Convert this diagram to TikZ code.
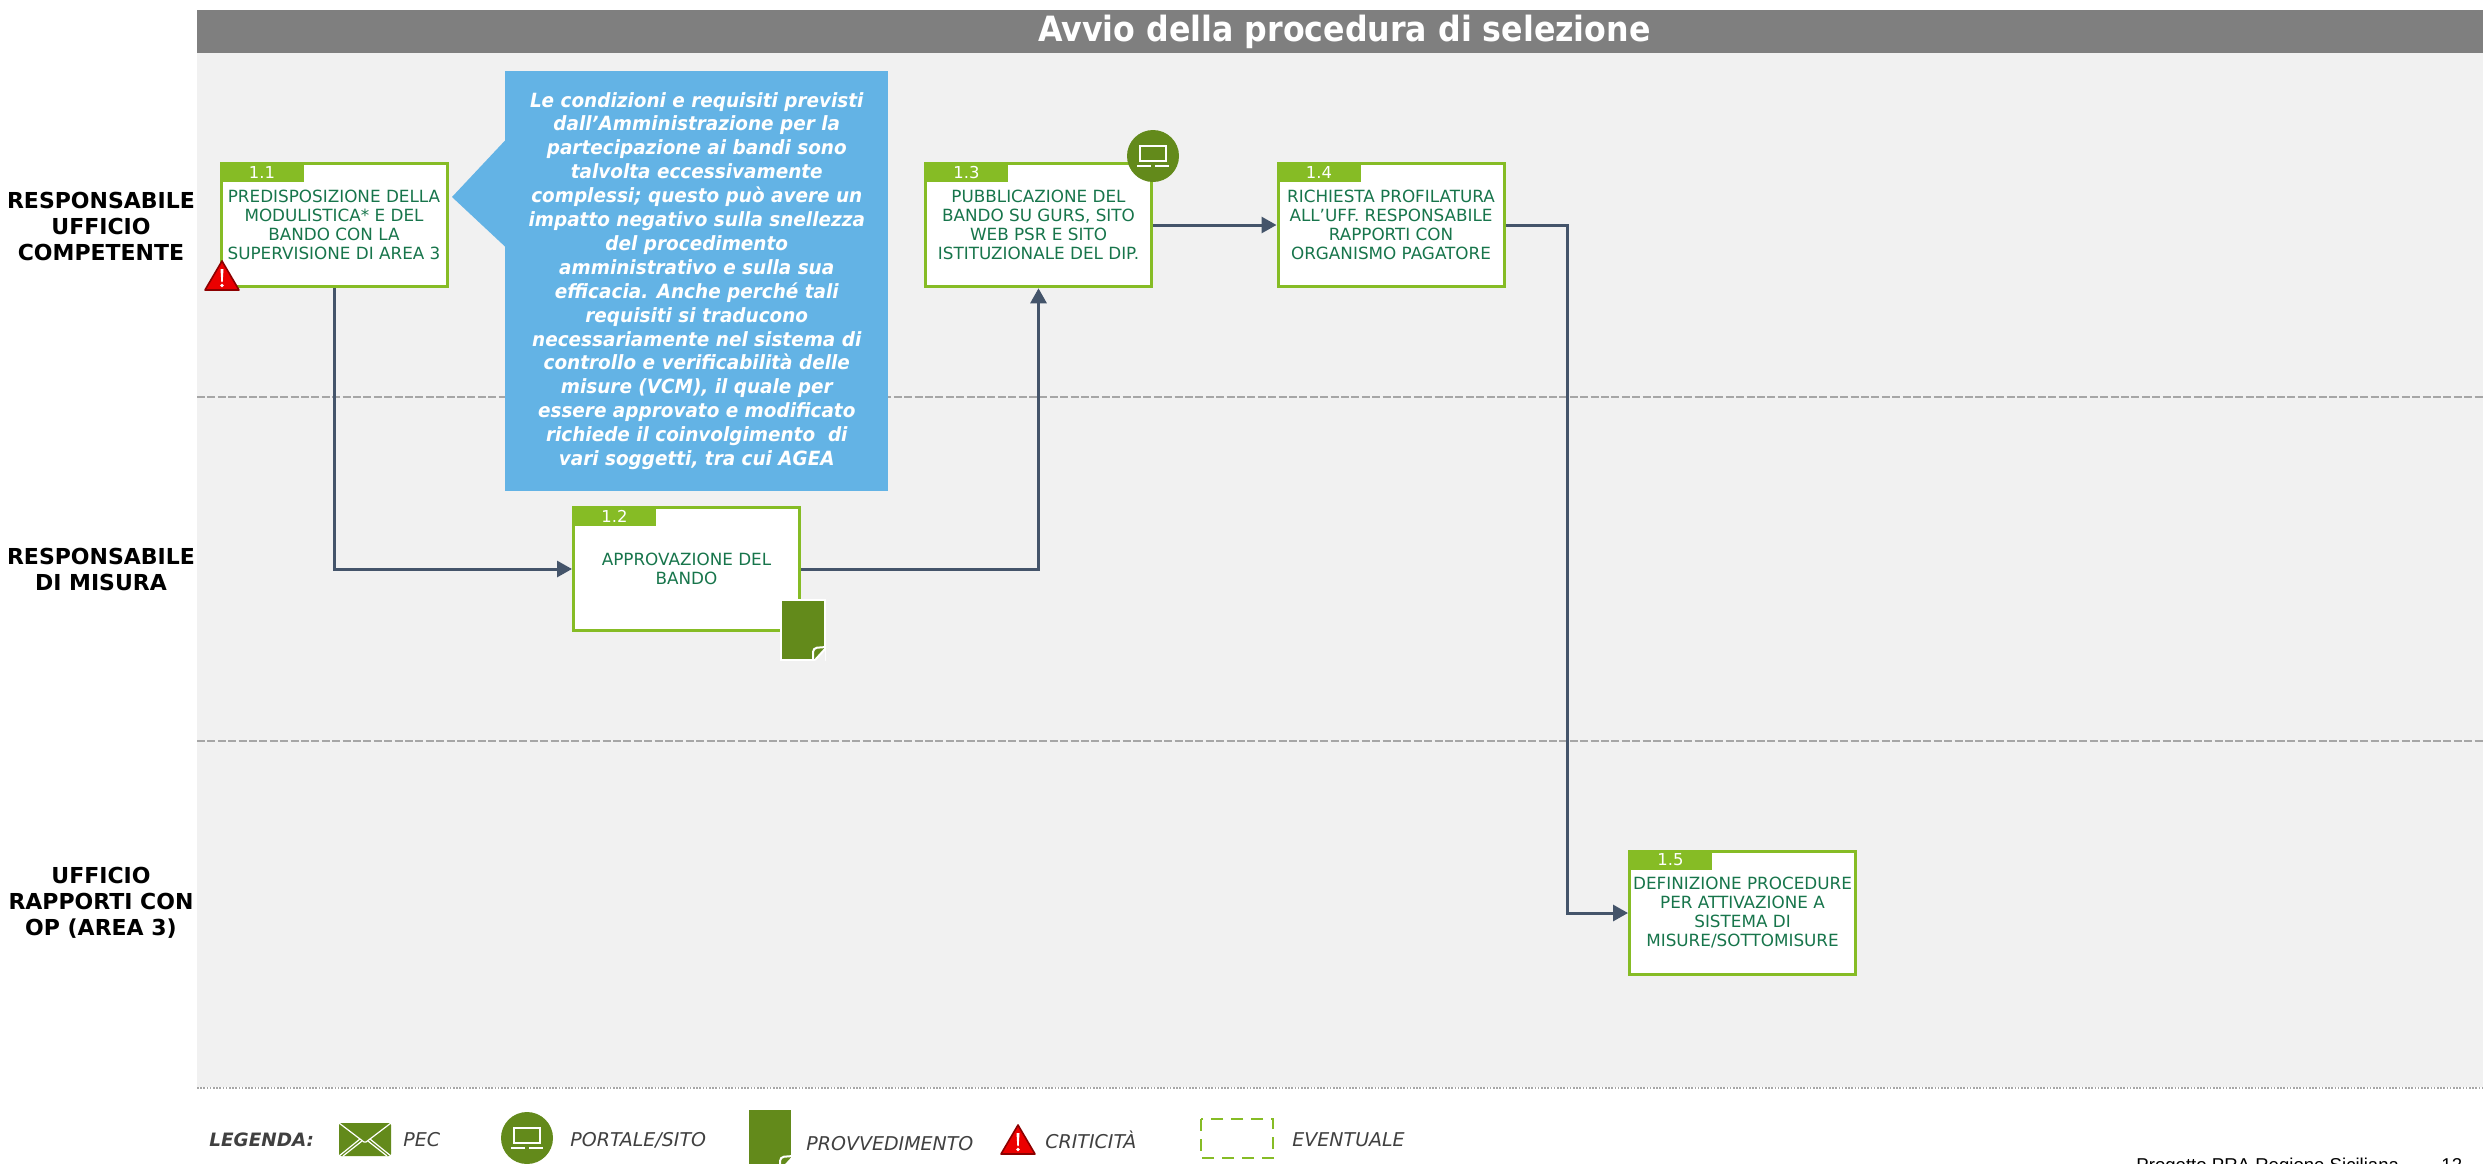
\documentclass[tikz,border=0pt]{standalone}
\usepackage{fontspec}
\setmainfont{DejaVu Sans}
\newfontfamily\titlefont[FakeStretch=0.91]{DejaVu Sans}
\newfontfamily\notefont[FakeStretch=0.94]{DejaVu Sans}
\newfontfamily\footfont{Liberation Sans}
\usetikzlibrary{arrows.meta,calc}
\definecolor{bandgray}{HTML}{7F7F7F}
\definecolor{panelgray}{HTML}{F1F1F1}
\definecolor{linegray}{HTML}{A6A6A6}
\definecolor{lime}{HTML}{86BC25}
\definecolor{doc}{HTML}{638A1B}
\definecolor{tasktext}{HTML}{17754B}
\definecolor{flowc}{HTML}{44546A}
\definecolor{callout}{HTML}{63B3E5}
\definecolor{legtext}{HTML}{404040}
\newcommand{\docicon}[3]{% x y background
  \fill[doc,draw=white,line width=1pt] (#1,#2) rectangle ++(44,60);
  \fill[#3] (#1+44,#2+49) -- (#1+44,#2+62) -- (#1+33,#2+62) -- cycle;
  \draw[white,line width=1pt,rounded corners=2pt] (#1+32,#2+60) -- (#1+32,#2+48) -- (#1+45,#2+47);
  \draw[white,line width=1pt] (#1+34,#2+60) -- (#1+44,#2+49);
}
\newcommand{\siteicon}[2]{% centre x y
  \fill[doc] (#1,#2) circle (26);
  \draw[white,line width=.8pt] (#1-13,#2-10) rectangle (#1+13,#2+5);
  \draw[white,line width=.8pt] (#1-16,#2+10) -- (#1-2,#2+10) (#1+2,#2+10) -- (#1+16,#2+10);
}
\newcommand{\warnicon}[2]{% left x, top y
  \fill[red!92!black,draw=red!55!black,line width=.8pt,line join=round] (#1+18,#2+1) -- (#1+35,#2+30) -- (#1+1,#2+30) -- cycle;
  \fill[white] (#1+16.5,#2+9) -- (#1+19.5,#2+9) -- (#1+18.7,#2+22) -- (#1+17.3,#2+22) -- cycle;
  \fill[white] (#1+18,#2+25.5) circle (1.8);
}
\tikzset{
  taskbox/.style={draw=lime,fill=white,line width=1.5pt,minimum width=113pt,minimum height=61.8pt,
    inner sep=0pt,align=center,text=tasktext,font=\fontsize{8.4}{9.5}\selectfont},
  tasktab/.style={fill=lime,text=white,anchor=north west,minimum width=42pt,minimum height=10pt,inner sep=0pt,
    font=\fontsize{8.2}{9.5}\selectfont},
  flow/.style={draw=flowc,line width=1.5pt,-{Triangle[length=7.5pt,width=8pt]}},
  sep/.style={linegray,line width=1.2pt,dash pattern=on 4pt off 1.2pt},
  lane/.style={align=center,font=\fontsize{11}{13}\selectfont\bfseries,text=black},
  legend/.style={anchor=west,text=legtext,inner sep=0pt,font=\fontsize{9.5}{11}\selectfont\itshape},
}
\begin{document}
\begin{tikzpicture}[x=0.5pt,y=-0.5pt]
\useasboundingbox (0,0) rectangle (2483,1163);
\fill[white] (0,0) rectangle (2483,1163);
\fill[panelgray] (197,53) rectangle (2483,1087);
\node[fill=bandgray,minimum width=1143pt,minimum height=21.5pt,inner sep=0pt,anchor=north west,text=white,
  font=\titlefont\fontsize{17.4}{20}\selectfont\bfseries] (title) at (197,10) {\hspace*{4pt}Avvio della procedura di selezione};
\draw[sep] (197,397) -- (2483,397);
\draw[sep] (197,741) -- (2483,741);
\draw[linegray,line width=1pt,dash pattern=on .8pt off .8pt] (197,1088) -- (2483,1088);

\node[lane] (laneA) at (101,226) {RESPONSABILE\\UFFICIO\\COMPETENTE};
\node[lane] (laneB) at (101,569) {RESPONSABILE\\DI MISURA};
\node[lane] (laneC) at (101,903) {UFFICIO\\RAPPORTI CON\\OP (AREA 3)};

\node[taskbox] (t11) at (334,225) {PREDISPOSIZIONE DELLA\\MODULISTICA* E DEL\\BANDO CON LA\\SUPERVISIONE DI AREA 3};
\node[taskbox] (t12) at (686.5,569) {APPROVAZIONE DEL\\BANDO};
\node[taskbox] (t13) at (1038.5,225) {PUBBLICAZIONE DEL\\BANDO SU GURS, SITO\\WEB PSR E SITO\\ISTITUZIONALE DEL DIP.};
\node[taskbox] (t14) at (1391,225) {RICHIESTA PROFILATURA\\ALL’UFF. RESPONSABILE\\RAPPORTI CON\\ORGANISMO PAGATORE};
\node[taskbox] (t15) at (1742.5,913) {DEFINIZIONE PROCEDURE\\PER ATTIVAZIONE A\\SISTEMA DI\\MISURE/SOTTOMISURE};
\foreach \n/\l in {t11/1.1,t12/1.2,t13/1.3,t14/1.4,t15/1.5}
  \node[tasktab] (tab\n) at (\n.north west) {\l};

\coordinate (bend) at (1567,225);
\draw[flow] (t11.south) |- (t12.west);
\draw[flow] (t12.east) -| (t13.south);
\draw[flow] (t13.east) -- (t14.west);
\draw[flow] (t14.east) -- (bend) |- (t15.west);

\fill[callout] (505.5,140) -- (452,197) -- (505.5,247) -- cycle;
\node[fill=callout,minimum width=191.5pt,minimum height=210pt,inner sep=0pt,align=center,text=white,
  font=\notefont\fontsize{9.8}{11.95}\selectfont\bfseries\itshape] (note) at (696.75,281)
 {Le condizioni e requisiti previsti\\dall’Amministrazione per la\\partecipazione ai bandi sono\\talvolta eccessivamente\\complessi; questo può avere un\\impatto negativo sulla snellezza\\del procedimento\\amministrativo e sulla sua\\efficacia. Anche perché tali\\requisiti si traducono\\necessariamente nel sistema di\\controllo e verificabilità delle\\misure (VCM), il quale per\\essere approvato e modificato\\richiede il coinvolgimento\ \ di\\vari soggetti, tra cui AGEA};

\warnicon{204}{260}
\docicon{781}{600}{panelgray}
\siteicon{1153}{156}

\node[legend,font=\fontsize{9.2}{11}\selectfont\bfseries\itshape] (legLabel) at (209,1140) {LEGENDA:};
\fill[doc,rounded corners=1pt] (339,1123) rectangle (391,1156);
\draw[white,line width=.6pt] (339,1123) -- (364,1142) -- (366,1142) -- (391,1123);
\draw[white,line width=.6pt] (339,1156) -- (360,1139) (391,1156) -- (370,1139);
\draw[white,line width=.6pt] (343,1156) -- (362,1141) (387,1156) -- (368,1141);
\node[legend] (legPec) at (403,1140) {PEC};
\siteicon{527}{1138}
\node[legend] (legSite) at (570,1140) {PORTALE/SITO};
\docicon{748}{1109}{white}
\node[legend] (legDoc) at (806,1144) {PROVVEDIMENTO};
\warnicon{1000}{1124}
\node[legend] (legCrit) at (1045,1140) {CRITICITÀ};
\draw[lime,line width=1.2pt,dash pattern=on 6pt off 4pt] (1201,1119) rectangle (1273,1158);
\node[legend] (legEv) at (1292,1140) {EVENTUALE};

\node[anchor=base west,inner sep=0pt,font=\footfont\fontsize{9.3}{11}\selectfont] (foot) at (2136,1171) {Progetto PRA Regione Siciliana};
\node[anchor=base west,inner sep=0pt,font=\footfont\fontsize{9.3}{11}\selectfont] (page) at (2441,1171) {12};
\end{tikzpicture}
\end{document}
